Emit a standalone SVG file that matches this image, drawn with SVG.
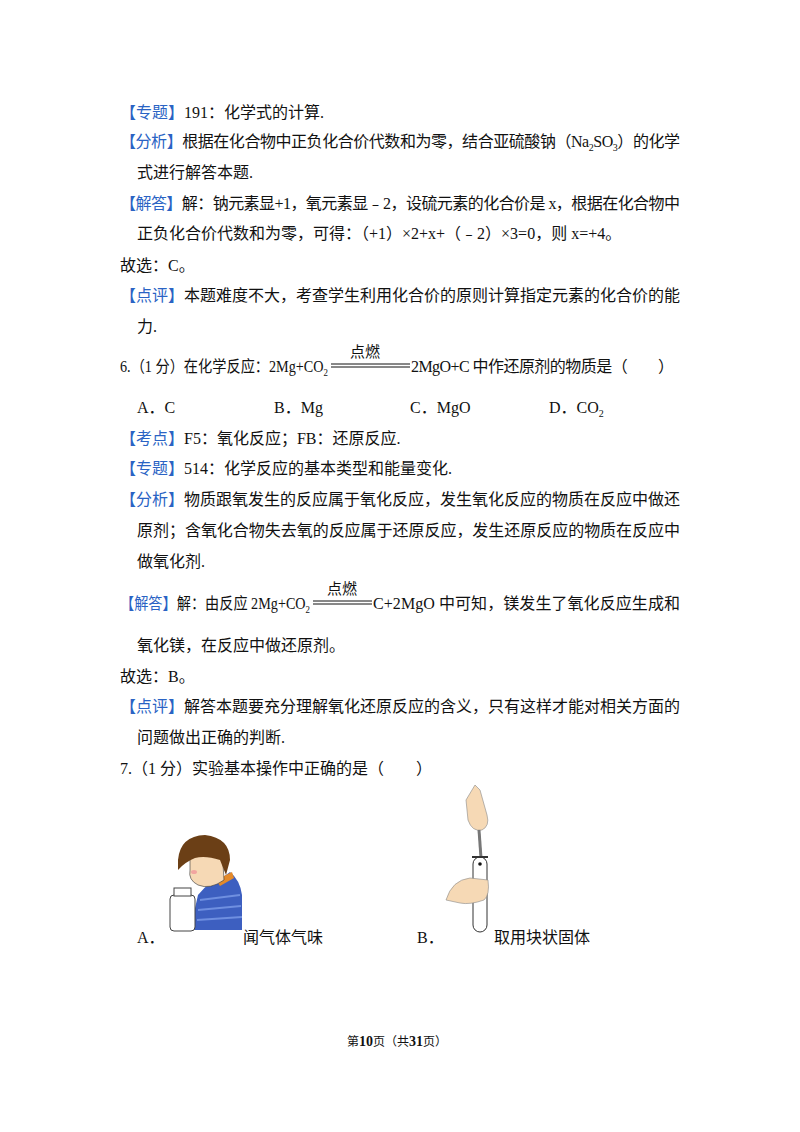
<svg xmlns="http://www.w3.org/2000/svg" width="800" height="1132" viewBox="0 0 800 1132">
<style>
text{font-family:"Liberation Serif","Noto Sans CJK SC",serif;font-size:16px;fill:#111}
.b{fill:#2a63c4}
.s{font-size:10px}
.f{font-size:12px}
.fb{font-size:14px;font-weight:bold}
</style>
<rect width="800" height="1132" fill="#fff"/>
<g id="text">
<text x="120" y="118"><tspan class="b">【专题】</tspan>191：化学式的计算.</text>
<text x="120" y="147" textLength="560" lengthAdjust="spacing"><tspan class="b">【分析】</tspan>根据在化合物中正负化合价代数和为零，结合亚硫酸钠（Na<tspan class="s" dy="4">2</tspan><tspan dy="-4">SO</tspan><tspan class="s" dy="4">3</tspan><tspan dy="-4">）的化学</tspan></text>
<text x="137" y="178">式进行解答本题.</text>
<text x="120" y="209" textLength="560" lengthAdjust="spacing"><tspan class="b">【解答】</tspan>解：钠元素显+1，氧元素显﹣2，设硫元素的化合价是 x，根据在化合物中</text>
<text x="137" y="239">正负化合价代数和为零，可得：（+1）×2+x+（﹣2）×3=0，则 x=+4。</text>
<text x="120" y="271">故选：C。</text>
<text x="120" y="301" textLength="560" lengthAdjust="spacing"><tspan class="b">【点评】</tspan>本题难度不大，考查学生利用化合价的原则计算指定元素的化合价的能</text>
<text x="137" y="332">力.</text>
<text x="120" y="372" textLength="208" lengthAdjust="spacingAndGlyphs">6.（1 分）在化学反应：2Mg+CO<tspan class="s" dy="4">2</tspan></text>
<text x="350" y="357" style="font-size:15px">点燃</text>
<line x1="331" y1="364" x2="410" y2="364" stroke="#111" stroke-width="1"/>
<line x1="331" y1="367" x2="410" y2="367" stroke="#111" stroke-width="1"/>
<text x="411" y="372" textLength="263" lengthAdjust="spacing">2MgO+C 中作还原剂的物质是（　　）</text>
<text x="137" y="413">A．C</text>
<text x="274" y="413">B．Mg</text>
<text x="410" y="413">C．MgO</text>
<text x="549" y="413">D．CO<tspan class="s" dy="4">2</tspan></text>
<text x="120" y="444"><tspan class="b">【考点】</tspan>F5：氧化反应；FB：还原反应.</text>
<text x="120" y="474"><tspan class="b">【专题】</tspan>514：化学反应的基本类型和能量变化.</text>
<text x="120" y="505" textLength="560" lengthAdjust="spacing"><tspan class="b">【分析】</tspan>物质跟氧发生的反应属于氧化反应，发生氧化反应的物质在反应中做还</text>
<text x="137" y="536" textLength="543" lengthAdjust="spacing">原剂；含氧化合物失去氧的反应属于还原反应，发生还原反应的物质在反应中</text>
<text x="137" y="567">做氧化剂.</text>
<text x="120" y="609" textLength="190" lengthAdjust="spacingAndGlyphs"><tspan class="b">【解答】</tspan>解：由反应 2Mg+CO<tspan class="s" dy="4">2</tspan></text>
<text x="327" y="594" style="font-size:15px">点燃</text>
<line x1="313" y1="601" x2="372" y2="601" stroke="#111" stroke-width="1"/>
<line x1="313" y1="604" x2="372" y2="604" stroke="#111" stroke-width="1"/>
<text x="373" y="609" textLength="307" lengthAdjust="spacing">C+2MgO 中可知，镁发生了氧化反应生成和</text>
<text x="137" y="651">氧化镁，在反应中做还原剂。</text>
<text x="120" y="682">故选：B。</text>
<text x="120" y="712" textLength="560" lengthAdjust="spacing"><tspan class="b">【点评】</tspan>解答本题要充分理解氧化还原反应的含义，只有这样才能对相关方面的</text>
<text x="137" y="743">问题做出正确的判断.</text>
<text x="120" y="774">7.（1 分）实验基本操作中正确的是（　　）</text>
<text x="137" y="943">A．</text>
<text x="243" y="943">闻气体气味</text>
<text x="417" y="943">B．</text>
<text x="494" y="943">取用块状固体</text>
<text x="347" y="1046" class="f">第<tspan class="fb">10</tspan>页（共<tspan class="fb">31</tspan>页）</text>
</g>
<g id="figA">
<path d="M190 930 L198 895 Q210 880 222 878 L230 872 Q240 880 242 895 L242 930 Z" fill="#3d5fc0"/>
<path d="M200 900 L240 895 M198 910 L241 906 M197 920 L242 917" stroke="#6f8fe0" stroke-width="2"/>
<path d="M216 880 L232 872 L234 878 L220 886 Z" fill="#e48a2a"/>
<path d="M190 860 Q188 845 200 842 L222 848 L224 880 Q210 890 198 885 Q188 880 190 870 Z" fill="#f6d9b5" stroke="#333" stroke-width="0.6"/>
<path d="M178 860 Q180 836 205 835 Q230 838 230 860 L226 875 L220 860 Q205 855 195 858 Q185 862 178 870 Z" fill="#6b3f16"/>
<ellipse cx="194" cy="872" rx="3" ry="2" fill="#f2a5a0"/>
<rect x="170" y="895" width="25" height="36" rx="4" fill="#fff" stroke="#444"/>
<rect x="174" y="888" width="17" height="8" fill="#fff" stroke="#444"/>
</g>
<g id="figB">
<path d="M475 785 L480 790 L487 815 Q490 826 482 830 Q472 832 468 820 L466 800 Z" fill="#f6d9b5" stroke="#888" stroke-width="0.6"/>
<line x1="479" y1="830" x2="481" y2="858" stroke="#777" stroke-width="3"/>
<rect x="473" y="857" width="14" height="75" rx="7" fill="#fff" stroke="#333"/>
<line x1="472" y1="857" x2="488" y2="857" stroke="#333" stroke-width="2"/>
<circle cx="480" cy="864" r="1.8" fill="#111"/>
<path d="M446 900 Q452 880 470 878 L488 880 Q490 895 484 900 Q470 905 460 903 Z" fill="#f6d9b5" stroke="#888" stroke-width="0.6"/>
</g>
</svg>
